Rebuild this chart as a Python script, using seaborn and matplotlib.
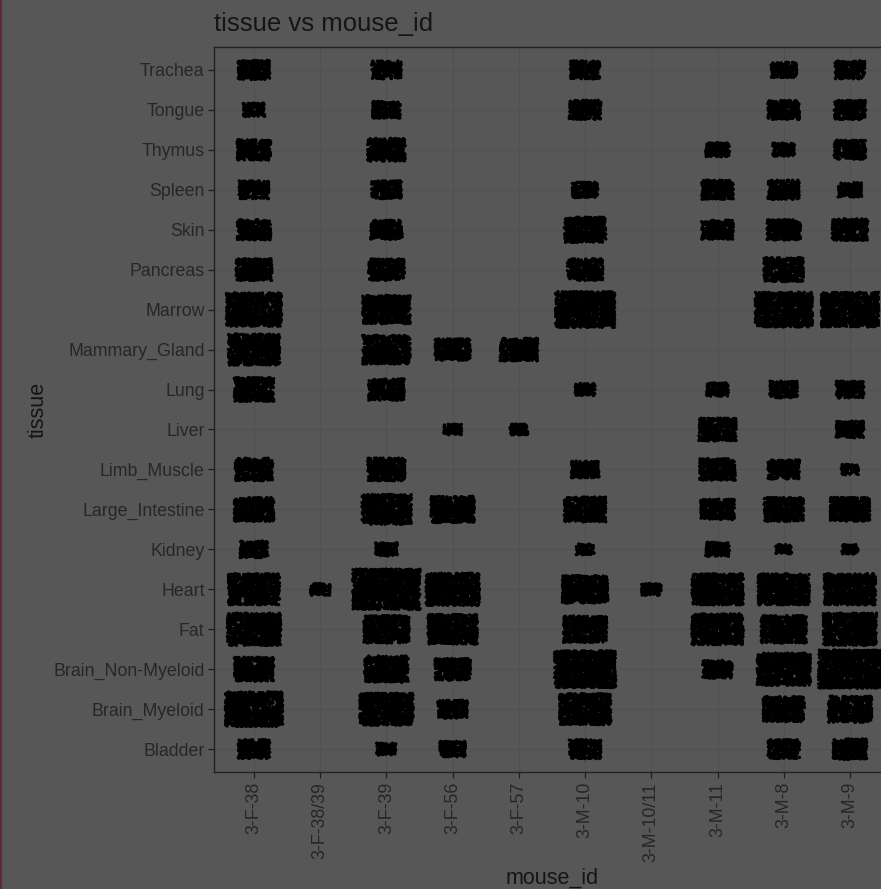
import numpy as np
import pandas as pd
import seaborn as sns
import matplotlib.pyplot as plt
from matplotlib.lines import Line2D

# categories
mice = ['3-F-38', '3-F-38/39', '3-F-39', '3-F-56', '3-F-57',
        '3-M-10', '3-M-10/11', '3-M-11', '3-M-8', '3-M-9']
tissues = ['Bladder', 'Brain_Myeloid', 'Brain_Non-Myeloid', 'Fat', 'Heart',
           'Kidney', 'Large_Intestine', 'Limb_Muscle', 'Liver', 'Lung',
           'Mammary_Gland', 'Marrow', 'Pancreas', 'Skin', 'Spleen',
           'Thymus', 'Tongue', 'Trachea']

# estimated cell counts, one row per tissue, columns follow `mice`
cell_counts = [
    [307, 0, 120, 203, 0, 307, 0, 0, 307, 347],          # Bladder
    [1009, 0, 875, 270, 0, 811, 0, 0, 529, 581],         # Brain_Myeloid
    [480, 0, 581, 389, 0, 1153, 0, 270, 875, 1229],      # Brain_Non-Myeloid
    [875, 0, 635, 750, 0, 581, 0, 811, 635, 875],        # Fat
    [811, 120, 1387, 875, 0, 635, 120, 811, 811, 811],   # Heart
    [235, 0, 145, 0, 0, 97, 0, 173, 77, 77],             # Kidney
    [480, 0, 750, 581, 0, 529, 0, 347, 480, 480],        # Large_Intestine
    [433, 0, 433, 0, 0, 235, 0, 389, 307, 97],           # Limb_Muscle
    [0, 0, 0, 97, 97, 0, 0, 433, 0, 235],                # Liver
    [480, 0, 389, 0, 0, 120, 0, 145, 235, 235],          # Lung
    [811, 0, 691, 389, 433, 0, 0, 0, 0, 0],              # Mammary_Gland
    [941, 0, 691, 0, 0, 1080, 0, 0, 1009, 1009],         # Marrow
    [389, 0, 389, 0, 0, 389, 0, 0, 480, 0],              # Pancreas
    [347, 0, 307, 0, 0, 529, 0, 307, 347, 389],          # Skin
    [270, 0, 270, 0, 0, 203, 0, 307, 307, 173],          # Spleen
    [347, 0, 433, 0, 0, 0, 0, 173, 145, 307],            # Thymus
    [145, 0, 235, 0, 0, 307, 0, 0, 307, 307],            # Tongue
    [307, 0, 270, 0, 0, 270, 0, 0, 203, 270],            # Trachea
]

# one row per cell, jittered inside a box that grows with the group size
rng = np.random.default_rng(7)
rows = []
for ti, tissue in enumerate(tissues):
    for mi, mouse in enumerate(mice):
        n = cell_counts[ti][mi]
        if n == 0:
            continue
        half = 0.0136 * np.sqrt(n)
        jx = rng.uniform(-half, half, n)
        jy = rng.uniform(-half, half, n)
        for a, b in zip(jx, jy):
            rows.append((mi + a, ti + b))
df = pd.DataFrame(rows, columns=['mouse_id', 'tissue'])

bg = '#575757'
ink = '#1c1c1c'

sns.set_theme(style='white')
plt.rcParams['font.family'] = ['Liberation Sans', 'DejaVu Sans']

fig = plt.figure(figsize=(8.81, 8.89), dpi=100, facecolor=bg)
ax = fig.add_axes([214.3 / 881, 1 - 772.3 / 889, (889.7 - 214.3) / 881, (772.3 - 46.7) / 889])
ax.set_facecolor(bg)

sns.scatterplot(data=df, x='mouse_id', y='tissue', color='black', s=6,
                linewidth=0, edgecolor='none', ax=ax, zorder=3)

ax.set_xlim(-0.6, len(mice) - 1 + 0.6)
ax.set_ylim(-0.58, len(tissues) - 1 + 0.58)
ax.set_xticks(range(len(mice)))
ax.set_xticklabels(mice, rotation=90, fontsize=12.8, color='#262626')
ax.set_yticks(range(len(tissues)))
ax.set_yticklabels(tissues, fontsize=12.8, color='#262626')
ax.tick_params(axis='both', length=4, width=0.9, color=ink, pad=3, direction='out')
ax.tick_params(bottom=True, left=True)

ax.grid(True, color='#515151', linewidth=0.9, zorder=0)
ax.set_axisbelow(True)
for sp in ax.spines.values():
    sp.set_color('#222222')
    sp.set_linewidth(1.0)

ax.set_xlabel('mouse_id', fontsize=15.5, color='#151515', labelpad=4)
ax.set_ylabel('tissue', fontsize=15.5, color='#151515', labelpad=3)
fig.text(214 / 881, 1 - 24 / 889, 'tissue vs mouse_id', fontsize=18.5,
         color='#151515', ha='left', va='center')

# thin dark red edge along the left side
fig.add_artist(Line2D([0.0012, 0.0012], [0, 1], color='#5c2b34', linewidth=1.6,
                      transform=fig.transFigure))

fig.savefig('out.png', dpi=100, facecolor=bg)
